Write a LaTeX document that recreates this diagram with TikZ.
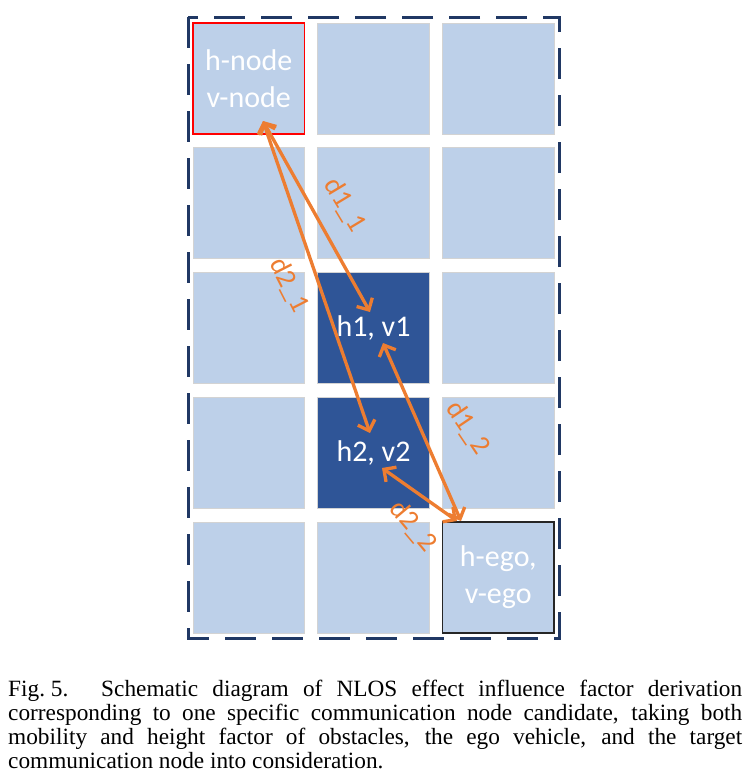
\documentclass[tikz,border=0pt]{standalone}
\usepackage{fontspec}
\setmainfont{Liberation Serif}
\newfontfamily\carlitofont{Carlito}
\usetikzlibrary{arrows.meta}
\definecolor{cellblue}{HTML}{BDD0E9}
\definecolor{darkcell}{HTML}{2F5597}
\definecolor{framenavy}{HTML}{203864}
\definecolor{arroworange}{HTML}{ED7D31}
\definecolor{celledge}{HTML}{D3D3D3}
\begin{document}
\begin{tikzpicture}[x=1pt,y=-1pt,
  cell/.style={minimum width=111.5pt, minimum height=111pt, inner sep=0pt, fill=cellblue, draw=celledge, line width=0.8pt, text=white, font=\carlitofont\fontsize{30}{37}\selectfont, align=center},
  darkbox/.style={cell, fill=darkcell},
  barb/.tip={Straight Barb[length=9pt,width=18pt]},
  dist/.style={draw=arroworange, line width=3.3pt, barb-barb},
  distlabel/.style={text=arroworange, font=\carlitofont\fontsize{28}{30}\selectfont, inner sep=0pt},
  capline/.style={anchor=base west, inner sep=0pt, font=\fontsize{23.3}{24}\selectfont}]
\useasboundingbox[fill=white] (0,0) rectangle (747,782);
% cells
\foreach \r/\y in {1/78.5,2/203.25,3/328,4/452.75,5/577.5}{
  \foreach \c/\x in {1/248.75,2/373.5,3/498.25}{
    \node[cell] (c\r\c) at (\x,\y) {};
  }
}
\node[cell, draw=red, line width=1.3pt] (hnode) at (248.75,78.5) {h-node\\v-node};
\node[darkbox] (hv1) at (373.5,328) {h1, v1};
\node[darkbox] (hv2) at (373.5,452.75) {h2, v2};
\node[cell, draw=black!85, line width=1.8pt] (hego) at (498.25,577.5) {h-ego,\\v-ego};
% frame
\draw[framenavy, line width=3pt, dash pattern=on 31pt off 16pt] (188,17) rectangle (559,638);
% arrow end points
\coordinate (pn) at (263,121);
\coordinate (p11) at (370,312);
\coordinate (p21) at (370,433);
\coordinate (p12) at (383,343);
\coordinate (p22) at (382,468);
\coordinate (pe1) at (461,521);
\coordinate (pe2) at (457,521);
\draw[dist] (pn) -- (p11);
\draw[dist] (pn) -- (p21);
\draw[dist] (p12) -- (pe1);
\draw[dist] (p22) -- (pe2);
% labels
\node[distlabel, rotate=-59] (l11) at (345,205) {d1\_1};
\node[distlabel, rotate=-63] (l21) at (289,285) {d2\_1};
\node[distlabel, rotate=-56] (l12) at (468,428) {d1\_2};
\node[distlabel, rotate=-50] (l22) at (413,526) {d2\_2};
% caption
\node[capline] (cap1) at (8,696) {\makebox[734pt][s]{\mbox{Fig.\ 5.}\hspace{0.8em} Schematic diagram of NLOS effect influence factor derivation}};
\node[capline] (cap2) at (8,720) {\makebox[734pt][s]{corresponding to one specific communication node candidate, taking both}};
\node[capline] (cap3) at (8,744) {\makebox[734pt][s]{mobility and height factor of obstacles, the ego vehicle, and the target}};
\node[capline] (cap4) at (8,768) {communication node into consideration.};
\end{tikzpicture}
\end{document}
